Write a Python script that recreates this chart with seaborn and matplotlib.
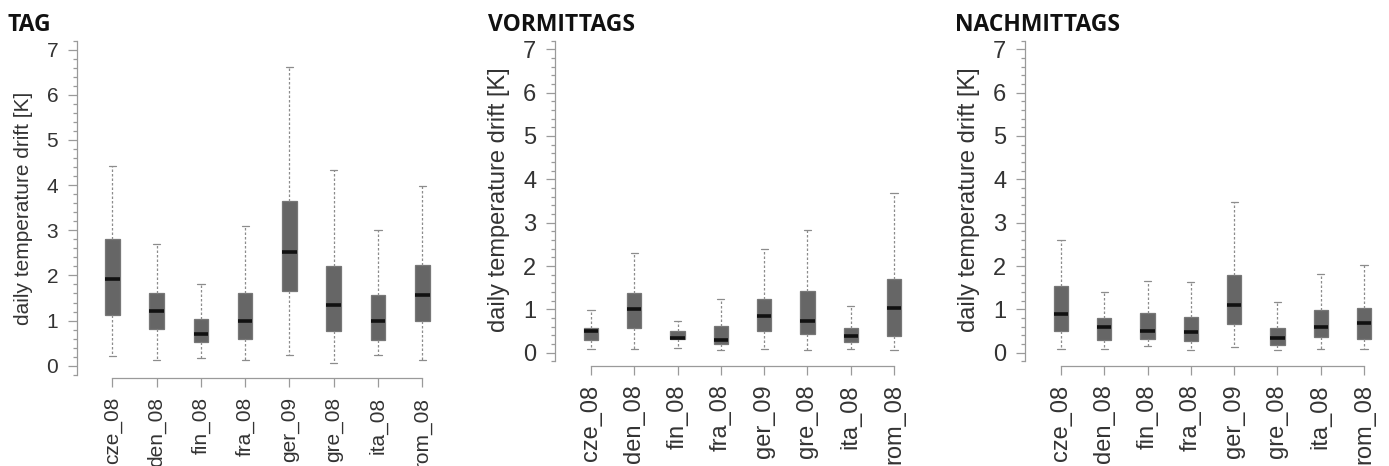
import numpy as np
import pandas as pd
import seaborn as sns
import matplotlib.pyplot as plt
from matplotlib.ticker import FixedLocator

sns.set_theme(style="ticks")
plt.rcParams["font.family"] = ["Liberation Sans", "DejaVu Sans"]

stations = ["cze_08", "den_08", "fin_08", "fra_08", "ger_09", "gre_08", "ita_08", "rom_08"]
panel_titles = ["TAG", "VORMITTAGS", "NACHMITTAGS"]
y_label = "daily temperature drift [K]"
y_ticks = [0, 1, 2, 3, 4, 5, 6, 7]

# five-number summaries per station: lower whisker, Q1, median, Q3, upper whisker
tag_lower = [0.21, 0.12, 0.16, 0.12, 0.24, 0.07, 0.24, 0.12]
tag_q1 = [1.12, 0.81, 0.52, 0.59, 1.66, 0.77, 0.57, 0.98]
tag_median = [1.92, 1.22, 0.70, 0.98, 2.52, 1.34, 1.00, 1.56]
tag_q3 = [2.81, 1.61, 1.03, 1.61, 3.65, 2.21, 1.57, 2.22]
tag_upper = [4.42, 2.70, 1.82, 3.09, 6.61, 4.34, 3.01, 3.97]

vorm_lower = [0.08, 0.08, 0.11, 0.06, 0.08, 0.06, 0.08, 0.06]
vorm_q1 = [0.29, 0.58, 0.31, 0.20, 0.50, 0.43, 0.24, 0.39]
vorm_median = [0.50, 1.00, 0.35, 0.29, 0.84, 0.74, 0.38, 1.03]
vorm_q3 = [0.58, 1.38, 0.50, 0.62, 1.25, 1.42, 0.58, 1.70]
vorm_upper = [0.99, 2.30, 0.74, 1.25, 2.39, 2.84, 1.08, 3.69]

nach_lower = [0.08, 0.08, 0.15, 0.06, 0.12, 0.06, 0.08, 0.08]
nach_q1 = [0.50, 0.29, 0.32, 0.27, 0.66, 0.18, 0.37, 0.32]
nach_median = [0.89, 0.59, 0.50, 0.48, 1.10, 0.33, 0.59, 0.68]
nach_q3 = [1.55, 0.80, 0.92, 0.82, 1.80, 0.58, 0.99, 1.03]
nach_upper = [2.59, 1.39, 1.65, 1.62, 3.48, 1.18, 1.82, 2.02]

summaries = [
    (tag_lower, tag_q1, tag_median, tag_q3, tag_upper),
    (vorm_lower, vorm_q1, vorm_median, vorm_q3, vorm_upper),
    (nach_lower, nach_q1, nach_median, nach_q3, nach_upper),
]


def long_frame(stats):
    # five values per station reproduce the quartiles exactly (linear percentiles)
    rows = []
    for i, st in enumerate(stations):
        for s in stats:
            rows.append({"station": st, "drift": s[i]})
    return pd.DataFrame(rows)


W, H = 1389, 466
fig = plt.figure(figsize=(W / 100, H / 100), dpi=100)
fig.patch.set_facecolor("white")

# panel geometry in pixels: y-spine x, first/last category x, y of 0 and 7, x-axis y
geometry = [
    dict(spine=77, first=112.3, last=422.3, zero=365.7, seven=49.7, xaxis=378,
         fs=15, label_right=33, label_mid=208, title_x=8),
    dict(spine=555, first=591, last=894, zero=352.7, seven=49.3, xaxis=365.7,
         fs=17, label_right=510, label_mid=200, title_x=488),
    dict(spine=1025, first=1061, last=1364, zero=352.7, seven=49.3, xaxis=365.7,
         fs=17, label_right=980, label_mid=200, title_x=955),
]

axis_grey = "#9a9a9a"
text_col = "#333333"

for k, g in enumerate(geometry):
    step = (g["last"] - g["first"]) / 7
    x_lo = (g["spine"] - g["first"]) / step
    x_hi = 7.55
    right_px = g["first"] + x_hi * step
    unit = (g["zero"] - g["seven"]) / 7
    y_lo = -(g["xaxis"] - g["zero"]) / unit
    y_hi = 7.25
    top_px = g["zero"] - y_hi * unit
    w_px = right_px - g["spine"]
    h_px = g["xaxis"] - top_px

    ax = fig.add_axes([g["spine"] / W, 1 - g["xaxis"] / H, w_px / W, h_px / H])
    ax.set_facecolor("white")
    df = long_frame(summaries[k])
    sns.boxplot(
        data=df, x="station", y="drift", order=stations, ax=ax,
        color="#666666", saturation=1, width=0.33, whis=(0, 100),
        linecolor="#777777", linewidth=0.9, fliersize=0,
        medianprops=dict(color="#111111", linewidth=2.6),
        whiskerprops=dict(color="#8c8c8c", linestyle=(0, (2.0, 1.6)), linewidth=0.9),
        capprops=dict(color="#8c8c8c", linewidth=0.9),
    )
    ax.set_xlim(x_lo, x_hi)
    ax.set_ylim(y_lo, y_hi)

    for side in ["top", "right"]:
        ax.spines[side].set_visible(False)
    ax.spines["left"].set_bounds(-0.2, 7.2)
    ax.spines["bottom"].set_bounds(0, 7)
    for side in ["left", "bottom"]:
        ax.spines[side].set_color(axis_grey)
        ax.spines[side].set_linewidth(0.9)

    ax.yaxis.set_major_locator(FixedLocator(y_ticks))
    minor = [round(v, 1) for v in np.arange(-0.2, 7.21, 0.2)]
    ax.yaxis.set_minor_locator(FixedLocator(minor))
    ax.tick_params(axis="y", which="major", length=6.5, width=0.9, color=axis_grey,
                   labelsize=g["fs"], labelcolor=text_col, pad=7, left=True)
    ax.tick_params(axis="y", which="minor", length=3.2, width=0.9, color=axis_grey, left=True)
    ax.tick_params(axis="x", which="major", length=6.5, width=0.9, color=axis_grey,
                   labelsize=g["fs"], labelcolor=text_col, pad=7, labelrotation=90,
                   bottom=True)

    ax.set_xlabel("")
    ax.set_ylabel(y_label, fontsize=g["fs"], color=text_col)
    lx = (g["label_right"] - g["spine"]) / w_px
    ly = (g["xaxis"] - g["label_mid"]) / h_px
    ax.yaxis.set_label_coords(lx, ly)

    fig.text(g["title_x"] / W, 1 - 31 / H, panel_titles[k], fontsize=16.5,
             fontweight="bold", family=["Open Sans", "DejaVu Sans"],
             color="#111111", ha="left", va="baseline")

fig.savefig("out.png", dpi=100, facecolor="white")
